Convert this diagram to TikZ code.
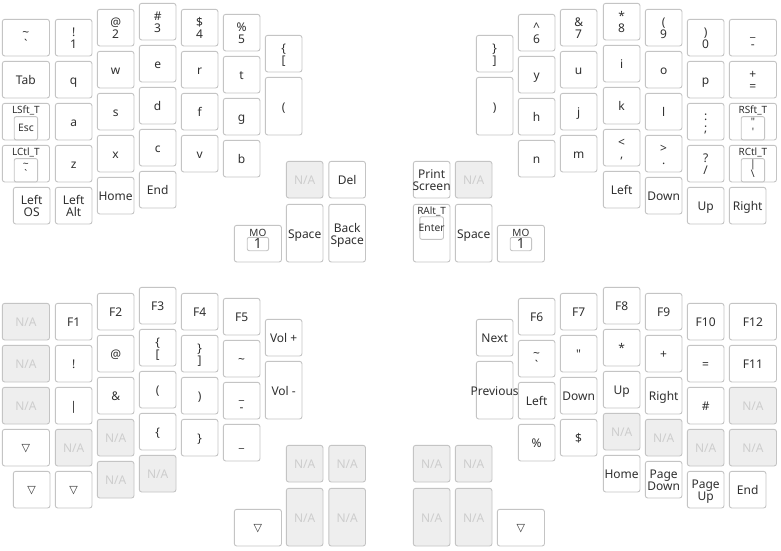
\documentclass[tikz,border=0pt]{standalone}
\usepackage{fontspec}
\setmainfont{Noto Sans}
\newfontfamily\symfont{DejaVu Sans}
\definecolor{keyline}{RGB}{196,196,196}
\definecolor{nafill}{RGB}{238,238,238}
\definecolor{natext}{RGB}{205,205,205}
\definecolor{legendtxt}{RGB}{48,48,48}
\tikzset{
 keybox/.style={draw=keyline, line width=0.9pt, fill=white, rounded corners=2.5pt, anchor=north west, inner sep=0pt, outer sep=0pt},
 nabox/.style={keybox, fill=nafill},
 legend/.style={text=legendtxt, font=\fontsize{12}{12}\selectfont, inner sep=0pt, outer sep=0pt},
 nalegend/.style={legend, text=natext},
 smalllabel/.style={legend, font=\fontsize{10}{10}\selectfont},
 innerlegend/.style={legend, font=\fontsize{10.3}{10}\selectfont},
 innerbox/.style={draw=keyline, line width=0.9pt, fill=white, rounded corners=2pt, anchor=north, inner sep=0pt, outer sep=0pt},
 tri/.style={legend, font=\symfont\fontsize{11}{11}\selectfont},
}
\def\W{36.7}
\def\WW{47.2}
\def\H{36.7}
\def\TH{57.7}
% single legend key
\newcommand\KA[6]{%
 \node[keybox, minimum width=#4pt, minimum height=#5pt] (#1) at (#2,#3) {};
 \node[legend, anchor=base, yshift=-5pt] (#1-t) at (#1.center) {#6};}
% two-line legend key
\newcommand\KB[7]{%
 \node[keybox, minimum width=#4pt, minimum height=#5pt] (#1) at (#2,#3) {};
 \node[legend, anchor=base, yshift=0.8pt] (#1-a) at (#1.center) {#6};
 \node[legend, anchor=base, yshift=-10.9pt] (#1-b) at (#1.center) {#7};}
% N/A key
\newcommand\KN[5]{%
 \node[nabox, minimum width=#4pt, minimum height=#5pt] (#1) at (#2,#3) {};
 \node[nalegend, anchor=base, yshift=-5pt] (#1-t) at (#1.center) {N/A};}
% transparent key
\newcommand\KT[5]{%
 \node[keybox, minimum width=#4pt, minimum height=#5pt] (#1) at (#2,#3) {};
 \node[tri, yshift=-0.8pt] (#1-t) at (#1.center) {▽};}
\begin{document}
\begin{tikzpicture}[x=1pt,y=-1pt]
\useasboundingbox (0,0) rectangle (781,550);
\fill[white] (0,0) rectangle (781,550);
% ---------------- top layer, left half
\KB{k00}{2.3}{19.3}{\WW}{\H}{\textasciitilde}{\textasciigrave}
\KB{k01}{55.3}{19.3}{\W}{\H}{!}{1}
\KB{k02}{97.3}{9.3}{\W}{\H}{@}{2}
\KB{k03}{139.3}{3.3}{\W}{\H}{\#}{3}
\KB{k04}{181.3}{9.3}{\W}{\H}{\$}{4}
\KB{k05}{223.3}{14.3}{\W}{\H}{\%}{5}
\KB{k06}{265.3}{35.3}{\W}{\H}{\{}{[}
\KA{k10}{2.3}{61.3}{\WW}{\H}{Tab}
\KA{k11}{55.3}{61.3}{\W}{\H}{q}
\KA{k12}{97.3}{51.3}{\W}{\H}{w}
\KA{k13}{139.3}{45.3}{\W}{\H}{e}
\KA{k14}{181.3}{51.3}{\W}{\H}{r}
\KA{k15}{223.3}{56.3}{\W}{\H}{t}
\KA{k16}{265.3}{77.3}{\W}{\TH}{(}
% LSft_T
\node[keybox, minimum width=\WW pt, minimum height=\H pt] (k20) at (2.3,103.3) {};
\node[smalllabel, anchor=base, yshift=-10.3pt] (k20-l) at (k20.north) {LSft\_T};
\node[innerbox, minimum width=23.4pt, minimum height=23.3pt, yshift=-13.3pt] (k20-i) at (k20.north) {};
\node[innerlegend, anchor=base, yshift=-3.7pt] (k20-it) at (k20-i.center) {Esc};
\KA{k21}{55.3}{103.3}{\W}{\H}{a}
\KA{k22}{97.3}{93.3}{\W}{\H}{s}
\KA{k23}{139.3}{87.3}{\W}{\H}{d}
\KA{k24}{181.3}{93.3}{\W}{\H}{f}
\KA{k25}{223.3}{98.3}{\W}{\H}{g}
% LCtl_T
\node[keybox, minimum width=\WW pt, minimum height=\H pt] (k30) at (2.3,145.3) {};
\node[smalllabel, anchor=base, yshift=-10.3pt] (k30-l) at (k30.north) {LCtl\_T};
\node[innerbox, minimum width=23.4pt, minimum height=23.3pt, yshift=-13.3pt] (k30-i) at (k30.north) {};
\node[innerlegend, anchor=base, yshift=3.2pt] (k30-ia) at (k30-i.center) {\textasciitilde};
\node[innerlegend, anchor=base, yshift=-6.8pt] (k30-ib) at (k30-i.center) {\textasciigrave};
\KA{k31}{55.3}{145.3}{\W}{\H}{z}
\KA{k32}{97.3}{135.3}{\W}{\H}{x}
\KA{k33}{139.3}{129.3}{\W}{\H}{c}
\KA{k34}{181.3}{135.3}{\W}{\H}{v}
\KA{k35}{223.3}{140.3}{\W}{\H}{b}
\KB{k40}{13.3}{187.3}{\W}{\H}{Left}{OS}
\KB{k41}{55.3}{187.3}{\W}{\H}{Left}{Alt}
\KA{k42}{97.3}{177.3}{\W}{\H}{Home}
\KA{k43}{139.3}{171.3}{\W}{\H}{End}
% left thumb
\KN{t1}{286.3}{161.3}{\W}{\H}
\KA{t2}{328.8}{161.3}{\W}{\H}{Del}
\KA{t3}{286.3}{204.3}{\W}{\TH}{Space}
\KB{t4}{328.8}{204.3}{\W}{\TH}{Back}{Space}
\node[keybox, minimum width=\WW pt, minimum height=\H pt] (t0) at (234.3,225.3) {};
\node[smalllabel, anchor=base, yshift=-10.7pt] (t0-l) at (t0.north) {MO};
\node[innerbox, minimum width=21.4pt, minimum height=13.4pt, yshift=-12pt] (t0-i) at (t0.north) {};
\node[legend, font=\fontsize{14}{14}\selectfont, anchor=base, yshift=-4.7pt] (t0-it) at (t0-i.center) {1};
% right thumb
\KB{t5}{413.3}{161.3}{\W}{\H}{Print}{Screen}
\KN{t6}{455.3}{161.3}{\W}{\H}
\node[keybox, minimum width=\W pt, minimum height=\TH pt] (t7) at (413.3,204.3) {};
\node[smalllabel, anchor=base, yshift=-10pt] (t7-l) at (t7.north) {RAlt\_T};
\node[innerbox, minimum width=23.7pt, minimum height=22.6pt, yshift=-12.4pt] (t7-i) at (t7.north) {};
\node[innerlegend, anchor=base, yshift=-3pt] (t7-it) at (t7-i.center) {Enter};
\KA{t8}{455.3}{204.3}{\W}{\TH}{Space}
\node[keybox, minimum width=\WW pt, minimum height=\H pt] (t9) at (497.3,225.3) {};
\node[smalllabel, anchor=base, yshift=-10.7pt] (t9-l) at (t9.north) {MO};
\node[innerbox, minimum width=21.4pt, minimum height=13.4pt, yshift=-12pt] (t9-i) at (t9.north) {};
\node[legend, font=\fontsize{14}{14}\selectfont, anchor=base, yshift=-4.7pt] (t9-it) at (t9-i.center) {1};
% ---------------- top layer, right half
\KB{r00}{476.3}{35.3}{\W}{\H}{\}}{]}
\KB{r01}{518.3}{14.3}{\W}{\H}{\textasciicircum}{6}
\KB{r02}{560.3}{9.3}{\W}{\H}{\&}{7}
\KB{r03}{603.3}{3.3}{\W}{\H}{*}{8}
\KB{r04}{645.3}{9.3}{\W}{\H}{(}{9}
\KB{r05}{687.3}{19.3}{\W}{\H}{)}{0}
\KB{r06}{729.3}{19.3}{\WW}{\H}{\_}{-}
\KA{r10}{476.3}{77.3}{\W}{\TH}{)}
\KA{r11}{518.3}{56.3}{\W}{\H}{y}
\KA{r12}{560.3}{51.3}{\W}{\H}{u}
\KA{r13}{603.3}{45.3}{\W}{\H}{i}
\KA{r14}{645.3}{51.3}{\W}{\H}{o}
\KA{r15}{687.3}{61.3}{\W}{\H}{p}
\KB{r16}{729.3}{61.3}{\WW}{\H}{+}{=}
\KA{r21}{518.3}{98.3}{\W}{\H}{h}
\KA{r22}{560.3}{93.3}{\W}{\H}{j}
\KA{r23}{603.3}{87.3}{\W}{\H}{k}
\KA{r24}{645.3}{93.3}{\W}{\H}{l}
\KB{r25}{687.3}{103.3}{\W}{\H}{:}{;}
% RSft_T
\node[keybox, minimum width=\WW pt, minimum height=\H pt] (r26) at (729.3,103.3) {};
\node[smalllabel, anchor=base, yshift=-10.3pt] (r26-l) at (r26.north) {RSft\_T};
\node[innerbox, minimum width=23.4pt, minimum height=23.3pt, yshift=-13.3pt] (r26-i) at (r26.north) {};
\node[innerlegend, anchor=base, yshift=3.2pt] (r26-ia) at (r26-i.center) {\textquotedbl};
\node[innerlegend, anchor=base, yshift=-6.8pt] (r26-ib) at (r26-i.center) {\textquotesingle};
\KA{r31}{518.3}{140.3}{\W}{\H}{n}
\KA{r32}{560.3}{135.3}{\W}{\H}{m}
\KB{r33}{603.3}{129.3}{\W}{\H}{<}{,}
\KB{r34}{645.3}{135.3}{\W}{\H}{>}{.}
\KB{r35}{687.3}{145.3}{\W}{\H}{?}{/}
% RCtl_T
\node[keybox, minimum width=\WW pt, minimum height=\H pt] (r36) at (729.3,145.3) {};
\node[smalllabel, anchor=base, yshift=-10.3pt] (r36-l) at (r36.north) {RCtl\_T};
\node[innerbox, minimum width=23.4pt, minimum height=23.3pt, yshift=-13.3pt] (r36-i) at (r36.north) {};
\node[innerlegend, anchor=base, yshift=3.2pt] (r36-ia) at (r36-i.center) {|};
\node[innerlegend, anchor=base, yshift=-6.8pt] (r36-ib) at (r36-i.center) {\textbackslash};
\KA{r43}{603.3}{171.3}{\W}{\H}{Left}
\KA{r44}{645.3}{177.3}{\W}{\H}{Down}
\KA{r45}{687.3}{187.3}{\W}{\H}{Up}
\KA{r46}{729.3}{187.3}{\W}{\H}{Right}
% ---------------- bottom layer, left half
\KN{b00}{2.3}{303.3}{\WW}{\H}
\KA{b01}{55.3}{303.3}{\W}{\H}{F1}
\KA{b02}{97.3}{293.3}{\W}{\H}{F2}
\KA{b03}{139.3}{287.3}{\W}{\H}{F3}
\KA{b04}{181.3}{293.3}{\W}{\H}{F4}
\KA{b05}{223.3}{298.3}{\W}{\H}{F5}
\KA{b06}{265.3}{319.3}{\W}{\H}{Vol +}
\KN{b10}{2.3}{345.3}{\WW}{\H}
\KA{b11}{55.3}{345.3}{\W}{\H}{!}
\KA{b12}{97.3}{335.3}{\W}{\H}{@}
\KB{b13}{139.3}{329.3}{\W}{\H}{\{}{[}
\KB{b14}{181.3}{335.3}{\W}{\H}{\}}{]}
\KA{b15}{223.3}{340.3}{\W}{\H}{\textasciitilde}
\KA{b16}{265.3}{361.3}{\W}{\TH}{Vol -}
\KN{b20}{2.3}{387.3}{\WW}{\H}
\KA{b21}{55.3}{387.3}{\W}{\H}{|}
\KA{b22}{97.3}{377.3}{\W}{\H}{\&}
\KA{b23}{139.3}{371.3}{\W}{\H}{(}
\KA{b24}{181.3}{377.3}{\W}{\H}{)}
\KB{b25}{223.3}{382.3}{\W}{\H}{\_}{-}
\KT{b30}{2.3}{429.3}{\WW}{\H}
\KN{b31}{55.3}{429.3}{\W}{\H}
\KN{b32}{97.3}{419.3}{\W}{\H}
\KA{b33}{139.3}{413.3}{\W}{\H}{\{}
\KA{b34}{181.3}{419.3}{\W}{\H}{\}}
\KA{b35}{223.3}{424.3}{\W}{\H}{\_}
\KT{b40}{13.3}{471.3}{\W}{\H}
\KT{b41}{55.3}{471.3}{\W}{\H}
\KN{b42}{97.3}{461.3}{\W}{\H}
\KN{b43}{139.3}{455.3}{\W}{\H}
% bottom thumbs
\KN{bt1}{286.3}{445.3}{\W}{\H}
\KN{bt2}{328.8}{445.3}{\W}{\H}
\KN{bt3}{286.3}{488.3}{\W}{\TH}
\KN{bt4}{328.8}{488.3}{\W}{\TH}
\KT{bt5}{234.3}{509.3}{\WW}{\H}
\KN{bt6}{413.3}{445.3}{\W}{\H}
\KN{bt7}{455.3}{445.3}{\W}{\H}
\KN{bt8}{413.3}{488.3}{\W}{\TH}
\KN{bt9}{455.3}{488.3}{\W}{\TH}
\KT{bt10}{497.3}{509.3}{\WW}{\H}
% ---------------- bottom layer, right half
\KA{c00}{476.3}{319.3}{\W}{\H}{Next}
\KA{c01}{518.3}{298.3}{\W}{\H}{F6}
\KA{c02}{560.3}{293.3}{\W}{\H}{F7}
\KA{c03}{603.3}{287.3}{\W}{\H}{F8}
\KA{c04}{645.3}{293.3}{\W}{\H}{F9}
\KA{c05}{687.3}{303.3}{\W}{\H}{F10}
\KA{c06}{729.3}{303.3}{\WW}{\H}{F12}
\KA{c10}{476.3}{361.3}{\W}{\TH}{Previous}
\KB{c11}{518.3}{340.3}{\W}{\H}{\textasciitilde}{\textasciigrave}
\KA{c12}{560.3}{335.3}{\W}{\H}{\textquotedbl}
\KA{c13}{603.3}{329.3}{\W}{\H}{*}
\KA{c14}{645.3}{335.3}{\W}{\H}{+}
\KA{c15}{687.3}{345.3}{\W}{\H}{=}
\KA{c16}{729.3}{345.3}{\WW}{\H}{F11}
\KA{c21}{518.3}{382.3}{\W}{\H}{Left}
\KA{c22}{560.3}{377.3}{\W}{\H}{Down}
\KA{c23}{603.3}{371.3}{\W}{\H}{Up}
\KA{c24}{645.3}{377.3}{\W}{\H}{Right}
\KA{c25}{687.3}{387.3}{\W}{\H}{\#}
\KN{c26}{729.3}{387.3}{\WW}{\H}
\KA{c31}{518.3}{424.3}{\W}{\H}{\%}
\KA{c32}{560.3}{419.3}{\W}{\H}{\$}
\KN{c33}{603.3}{413.3}{\W}{\H}
\KN{c34}{645.3}{419.3}{\W}{\H}
\KN{c35}{687.3}{429.3}{\W}{\H}
\KN{c36}{729.3}{429.3}{\WW}{\H}
\KA{c43}{603.3}{455.3}{\W}{\H}{Home}
\KB{c44}{645.3}{461.3}{\W}{\H}{Page}{Down}
\KB{c45}{687.3}{471.3}{\W}{\H}{Page}{Up}
\KA{c46}{729.3}{471.3}{\W}{\H}{End}
\end{tikzpicture}
\end{document}
